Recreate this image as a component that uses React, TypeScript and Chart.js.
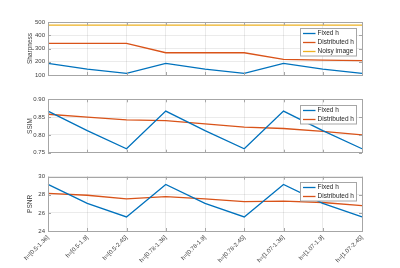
import React, { useEffect, useRef } from "react";
import { Chart, registerables } from "chart.js";
Chart.register(...registerables);

const categories = [
  "h=[0.5-1.36]", "h=[0.5-1.9]", "h=[0.5-2.45]",
  "h=[0.78-1.36]", "h=[0.78-1.9]", "h=[0.78-2.45]",
  "h=[1.07-1.36]", "h=[1.07-1.9]", "h=[1.07-2.45]",
];
const sharpFixed = [188, 145, 113, 188, 145, 113, 188, 145, 113];
const sharpDist = [338, 338, 338, 268, 268, 268, 218, 213, 208];
const sharpNoisy = [476, 476, 476, 476, 476, 476, 476, 476, 476];
const ssimFixed = [0.867, 0.812, 0.761, 0.867, 0.812, 0.761, 0.867, 0.812, 0.761];
const ssimDist = [0.858, 0.85, 0.842, 0.84, 0.831, 0.822, 0.818, 0.81, 0.8];
const psnrFixed = [29.15, 27.05, 25.55, 29.15, 27.05, 25.55, 29.15, 27.05, 25.55];
const psnrDist = [28.15, 27.95, 27.55, 27.8, 27.55, 27.25, 27.3, 27.15, 26.8];
const sharpTicks = [100, 200, 300, 400, 500];
const ssimTicks = [0.75, 0.8, 0.85, 0.9];
const psnrTicks = [24, 26, 28, 30];

const BLUE = "#0072BD";
const ORANGE = "#D95319";
const YELLOW = "#EDB120";
const FONT = "'Liberation Sans', Arial, Helvetica, sans-serif";
const TXT = "#404040";

const boxPlugin = {
  id: "mlbox",
  afterDraw(chart: any) {
    const { ctx, chartArea } = chart;
    const { left, right, top, bottom } = chartArea;
    ctx.save();
    ctx.strokeStyle = "#a6a6a6";
    ctx.lineWidth = 1;
    ctx.strokeRect(Math.round(left) + 0.5, Math.round(top) + 0.5, Math.round(right - left), Math.round(bottom - top));
    const xs = chart.scales.x;
    const ys = chart.scales.y;
    ctx.beginPath();
    xs.ticks.forEach((_: any, i: number) => {
      const px = Math.round(xs.getPixelForTick(i)) + 0.5;
      ctx.moveTo(px, bottom);
      ctx.lineTo(px, bottom - 3);
      ctx.moveTo(px, top);
      ctx.lineTo(px, top + 3);
    });
    ys.ticks.forEach((_: any, i: number) => {
      const py = Math.round(ys.getPixelForTick(i)) + 0.5;
      ctx.moveTo(left, py);
      ctx.lineTo(left + 3, py);
      ctx.moveTo(right, py);
      ctx.lineTo(right - 3, py);
    });
    ctx.stroke();

    // legend
    const ds = chart.data.datasets;
    const w = 56;
    const rowH = 9;
    const bx = Math.round(right - 6 - w) + 0.5;
    const by = Math.round(top + 5.5) + 0.5;
    const bh = ds.length * rowH + 0.5;
    ctx.fillStyle = "#ffffff";
    ctx.fillRect(bx, by, w, bh);
    ctx.strokeStyle = "#a6a6a6";
    ctx.strokeRect(bx, by, w, bh);
    ctx.font = `6.5px ${FONT}`;
    ctx.textBaseline = "middle";
    ctx.textAlign = "left";
    ds.forEach((d: any, i: number) => {
      const cy = by + 5 + i * rowH;
      ctx.strokeStyle = d.borderColor;
      ctx.lineWidth = 1.3;
      ctx.beginPath();
      ctx.moveTo(bx + 2.5, cy);
      ctx.lineTo(bx + 15, cy);
      ctx.stroke();
      ctx.fillStyle = "#262626";
      ctx.fillText(d.label, bx + 17, cy);
    });
    ctx.restore();
  },
};

function makeChart(
  canvas: HTMLCanvasElement,
  datasets: any[],
  yTitle: string,
  yMin: number,
  yMax: number,
  yTicks: number[],
  padTop: number,
  padBottom: number,
  showX: boolean,
  xHeight: number
) {
  return new Chart(canvas, {
    type: "line",
    data: {
      labels: categories,
      datasets: datasets.map((d) => ({
        label: d.label,
        data: d.data,
        borderColor: d.color,
        backgroundColor: d.color,
        borderWidth: 1.3,
        pointRadius: 0,
        tension: 0,
        fill: false,
      })),
    },
    options: {
      animation: false,
      responsive: false,
      layout: { padding: { left: 0, right: 38, top: padTop, bottom: padBottom } },
      plugins: { legend: { display: false }, tooltip: { enabled: false } },
      scales: {
        x: {
          offset: false,
          grid: { color: "rgba(0,0,0,0.08)", drawTicks: false },
          border: { display: false },
          ticks: {
            display: showX,
            autoSkip: false,
            maxRotation: 45,
            minRotation: 45,
            padding: 3,
            color: TXT,
            font: { size: 6, family: FONT },
          },
          afterFit: (s: any) => {
            s.height = xHeight;
          },
        },
        y: {
          min: yMin,
          max: yMax,
          grid: { color: "rgba(0,0,0,0.08)", drawTicks: false },
          border: { display: false },
          ticks: { padding: 3, color: TXT, font: { size: 6, family: FONT } },
          afterBuildTicks: (s: any) => {
            s.ticks = yTicks.map((v) => ({ value: v }));
          },
          afterFit: (s: any) => {
            s.width = 48;
          },
          title: {
            display: true,
            text: yTitle,
            color: TXT,
            font: { size: 6.5, family: FONT },
            padding: { top: 26, bottom: 0 },
          },
        },
      },
    },
    plugins: [boxPlugin],
  } as any);
}

export default function App() {
  const c1 = useRef<HTMLCanvasElement>(null);
  const c2 = useRef<HTMLCanvasElement>(null);
  const c3 = useRef<HTMLCanvasElement>(null);
  useEffect(() => {
    const a = makeChart(
      c1.current!,
      [
        { label: "Fixed h", data: sharpFixed, color: BLUE },
        { label: "Distributed h", data: sharpDist, color: ORANGE },
        { label: "Noisy image", data: sharpNoisy, color: YELLOW },
      ],
      "Sharpness", 100, 500, sharpTicks, 22, 7, false, 0
    );
    const b = makeChart(
      c2.current!,
      [
        { label: "Fixed h", data: ssimFixed, color: BLUE },
        { label: "Distributed h", data: ssimDist, color: ORANGE },
      ],
      "SSIM", 0.75, 0.9, ssimTicks, 14.3, 7.3, false, 0
    );
    const c = makeChart(
      c3.current!,
      [
        { label: "Fixed h", data: psnrFixed, color: BLUE },
        { label: "Distributed h", data: psnrDist, color: ORANGE },
      ],
      "PSNR", 24, 30, psnrTicks, 16.7, 0, true, 37
    );
    return () => {
      a.destroy();
      b.destroy();
      c.destroy();
    };
  }, []);
  return (
    <div style={{ position: "fixed", left: 0, top: 0, width: 400, height: 268, background: "#fff" }}>
      <canvas ref={c1} width={400} height={82} style={{ position: "absolute", left: 0, top: 0 }} />
      <canvas ref={c2} width={400} height={160 - 85} style={{ position: "absolute", left: 0, top: 85 }} />
      <canvas ref={c3} width={400} height={108} style={{ position: "absolute", left: 0, top: 160 }} />
    </div>
  );
}
